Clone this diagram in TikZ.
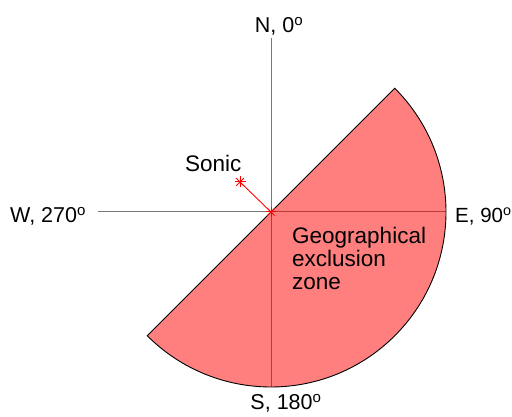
\documentclass[tikz,border=0pt]{standalone}
\usepackage{fontspec}
\setmainfont{Liberation Sans}
\begin{document}
\begin{tikzpicture}[x=1pt,y=1pt,
  axis/.style={draw={rgb,255:red,120;green,120;blue,120},line width=1pt},
  zone/.style={fill=red,fill opacity=0.5,draw=black,draw opacity=1,line width=0.9pt},
  lbl/.style={inner sep=0pt,font=\fontsize{21.5}{23}\selectfont},
  blk/.style={inner sep=0pt,font=\fontsize{22.5}{23}\selectfont},
  sonicline/.style={draw=red,line width=0.9pt},
  starspoke/.style={draw=red,line width=1pt}]
\useasboundingbox (0,0) rectangle (512,417);
\coordinate (O) at (271,205);
\coordinate (Ntop) at (271,379);
\coordinate (Sbot) at (271,30);
\coordinate (Wend) at (98,205);
\coordinate (Eend) at (446,205);
\coordinate (sonic) at (240,235);
% axes
\draw[axis] (Ntop) -- (Sbot);
\draw[axis] (Wend) -- (Eend);
% exclusion zone
\path[zone] (O) -- ++(45:175) arc[start angle=45,end angle=-135,radius=175] -- cycle;
% sonic
\draw[sonicline] (O) -- (sonic);
\foreach \a in {0,45,90,135} {
  \draw[starspoke] (sonic) ++(\a:5.5) -- ++(\a+180:11);
  \draw[starspoke] (O) ++(\a:5) -- ++(\a+180:10);
}
% labels
\node[lbl,anchor=base] (N) at (279,384) {N, 0\textsuperscript{o}};
\node[lbl,anchor=base] (S) at (286,7) {S, 180\textsuperscript{o}};
\node[lbl,anchor=base west] (W) at (10,194) {W, 270\textsuperscript{o}};
\node[lbl,anchor=base west,font=\fontsize{20.5}{23}\selectfont] (E) at (455,194) {E, 90\textsuperscript{o}};
\node[blk,anchor=base west] (sl) at (185,245) {Sonic};
\node[blk,anchor=north west,align=left] (gz) at (292,190) {Geographical\\exclusion\\zone};
\end{tikzpicture}
\end{document}
